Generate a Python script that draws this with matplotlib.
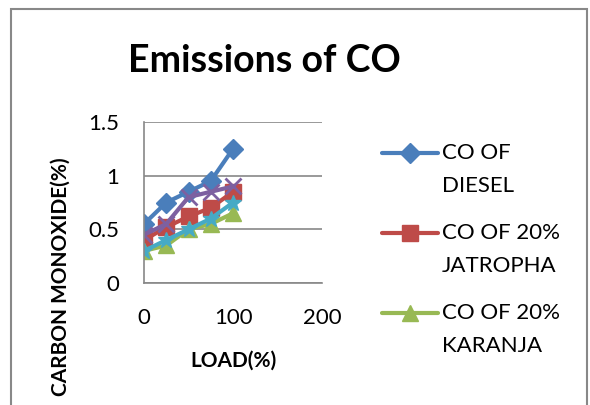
import matplotlib.pyplot as plt
from matplotlib.lines import Line2D
from matplotlib.patches import Rectangle

plt.rcParams['font.family'] = ['Lato', 'DejaVu Sans']

# data
load = [0, 25, 50, 75, 100]
co_diesel = [0.55, 0.75, 0.85, 0.95, 1.25]
co_jatropha = [0.40, 0.52, 0.62, 0.70, 0.85]
co_karanja = [0.30, 0.35, 0.50, 0.55, 0.65]
co_series4 = [0.45, 0.55, 0.80, 0.85, 0.90]
co_series5 = [0.30, 0.40, 0.50, 0.60, 0.75]

labels = [("CO OF", "DIESEL"), ("CO OF 20%", "JATROPHA"), ("CO OF 20%", "KARANJA")]
y_ticks = [0, 0.5, 1, 1.5]
y_tick_labels = ["0", "0.5", "1", "1.5"]
x_ticks = [0, 100, 200]

# Colors (Excel 2007 palette)
BLUE = "#4A7EBB"
RED = "#BE4B48"
GREEN = "#98B954"
PURPLE = "#7D60A0"
CYAN = "#46AAC5"

W, H = 590, 405
fig = plt.figure(figsize=(5.9, 4.05), dpi=100)
ax = fig.add_axes([0.244, 0.301, 0.302, 0.398])

lw = 3
h1, = ax.plot(load, co_diesel, color=BLUE, lw=lw, marker="D", markersize=10)
h2, = ax.plot(load, co_jatropha, color=RED, lw=lw, marker="s", markersize=11)
h3, = ax.plot(load, co_karanja, color=GREEN, lw=lw, marker="^", markersize=12)
ax.plot(load, co_series4, color=PURPLE, lw=lw, marker="x", markersize=11, markeredgewidth=2)
ax.plot(load, co_series5, color=CYAN, lw=lw, marker="*", markersize=12)

ax.set_xlim(0, 200)
ax.set_ylim(0, 1.5)
ax.set_xticks(x_ticks)
ax.set_yticks(y_ticks)
ax.set_yticklabels(y_tick_labels)
ax.tick_params(axis="both", length=0, labelsize=16, pad=18)
ax.grid(axis="y", color="#888888", lw=1.2)
ax.set_axisbelow(True)
for s in ["top", "right"]:
    ax.spines[s].set_visible(False)
for s in ["left", "bottom"]:
    ax.spines[s].set_color("#888888")
    ax.spines[s].set_linewidth(1.2)

fig.text(0.448, 0.85, "Emissions of CO", ha="center", va="center",
         fontsize=27, fontweight="bold")
fig.text(0.395, 0.11, "LOAD(%)", ha="center", va="center",
         fontsize=15, fontweight="bold")
fig.text(0.102, 0.318, "CARBON MONOXIDE(%)", ha="center", va="center",
         rotation=90, fontsize=15, fontweight="bold")

# legend drawn by hand: handle lines up with the first text line
rows = [153, 233, 313]
for h, (l1, l2), r in zip([h1, h2, h3], labels, rows):
    y = 1 - r / H
    fig.add_artist(Line2D([382 / W, 410 / W, 438 / W], [y, y, y],
                          transform=fig.transFigure, color=h.get_color(), lw=lw,
                          marker=h.get_marker(), markersize=h.get_markersize(),
                          markevery=[1], solid_capstyle="round"))
    fig.text(442 / W, y, l1, ha="left", va="center", fontsize=16)
    fig.text(442 / W, 1 - (r + 33) / H, l2, ha="left", va="center", fontsize=16)

fig.patches.append(Rectangle((11 / W, -0.05), 576 / W, 1.05 - 9 / H,
                             transform=fig.transFigure, fill=False,
                             edgecolor="#888888", lw=1.5))

fig.savefig("out.png", dpi=100)
